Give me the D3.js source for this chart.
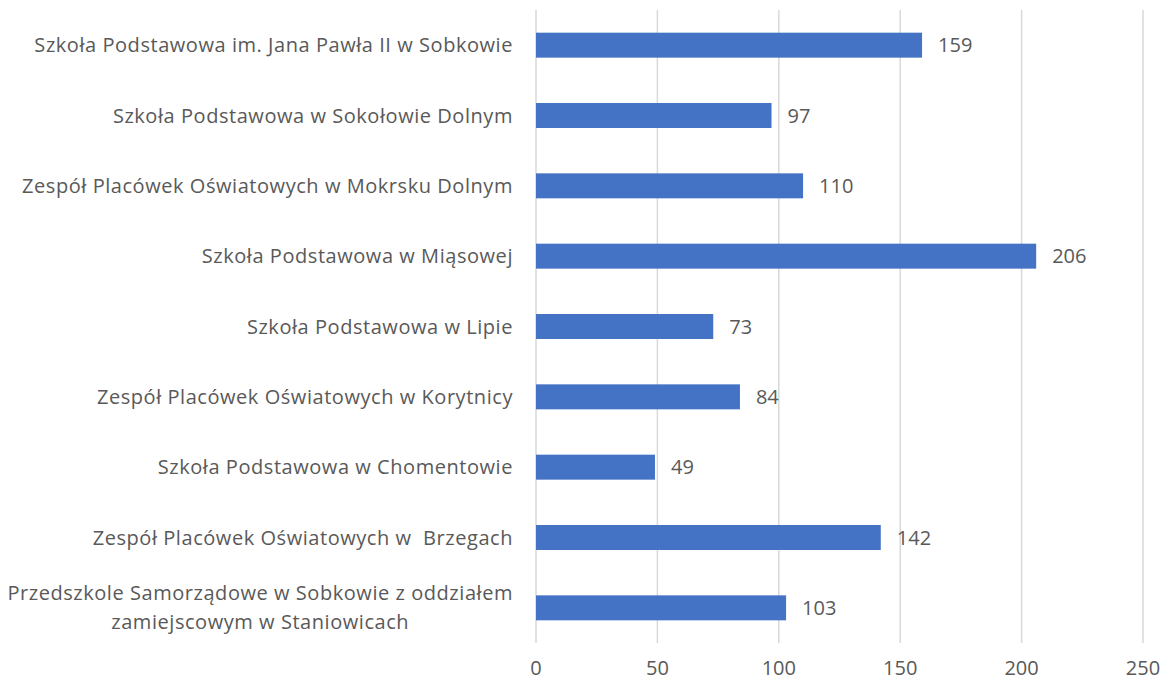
<!DOCTYPE html>
<html>
<head>
<meta charset="utf-8">
<script src="https://cdn.jsdelivr.net/npm/d3@7"></script>
<style>
  body { margin: 0; background: #fff; }
  text { font-family: "Open Sans", Lato, sans-serif; fill: #595959; white-space: pre; }
</style>
</head>
<body>
<svg id="chart" width="1167" height="683"></svg>
<script>
// data, top to bottom as drawn
var schools = [
	["Szkoła Podstawowa im. Jana Pawła II w Sobkowie"],
	["Szkoła Podstawowa w Sokołowie Dolnym"],
	["Zespół Placówek Oświatowych w Mokrsku Dolnym"],
	["Szkoła Podstawowa w Miąsowej"],
	["Szkoła Podstawowa w Lipie"],
	["Zespół Placówek Oświatowych w Korytnicy"],
	["Szkoła Podstawowa w Chomentowie"],
	["Zespół Placówek Oświatowych w  Brzegach"],
	["Przedszkole Samorządowe w Sobkowie z oddziałem", "zamiejscowym w Staniowicach"]
];
var counts = [159, 97, 110, 206, 73, 84, 49, 142, 103];
var xTicks = [0, 50, 100, 150, 200, 250];

var svg = d3.select("#chart");
var plotLeft = 536, plotRight = 1143, plotTop = 10, plotBottom = 643;
var fontSize = "20px";

var x = d3.scaleLinear().domain([0, 250]).range([plotLeft, plotRight]);
var y = d3.scaleBand().domain(d3.range(schools.length)).range([plotTop, plotBottom]).paddingInner(0.645).paddingOuter(0.3225);

// gridlines
svg.append("g").selectAll("line")
	.data(xTicks)
	.enter().append("line")
	.attr("x1", function(d) { return x(d); })
	.attr("x2", function(d) { return x(d); })
	.attr("y1", plotTop)
	.attr("y2", plotBottom)
	.attr("stroke", "#d9d9d9")
	.attr("stroke-width", 1.5);

// tick labels
svg.append("g").selectAll("text")
	.data(xTicks)
	.enter().append("text")
	.attr("x", function(d) { return x(d); })
	.attr("y", 668)
	.attr("dy", "0.35em")
	.attr("text-anchor", "middle")
	.style("font-size", fontSize)
	.text(function(d) { return d; });

// bars
svg.append("g").selectAll("rect")
	.data(counts)
	.enter().append("rect")
	.attr("x", x(0))
	.attr("y", function(d, i) { return y(i); })
	.attr("width", function(d) { return x(d) - x(0); })
	.attr("height", y.bandwidth())
	.attr("fill", "#4472c4");

// value labels
svg.append("g").selectAll("text")
	.data(counts)
	.enter().append("text")
	.attr("x", function(d) { return x(d) + 16; })
	.attr("y", function(d, i) { return y(i) + y.bandwidth() / 2; })
	.attr("dy", "0.35em")
	.style("font-size", fontSize)
	.text(function(d) { return d; });

// category labels (multi-line ones are centred on their widest line)
var labelRight = 513;
svg.append("g").selectAll("text")
	.data(schools)
	.enter().append("text")
	.style("font-size", fontSize)
	.style("letter-spacing", "0.55px")
	.each(function(lines, i) {
		var t = d3.select(this);
		var cy = y(i) + y.bandwidth() / 2;
		var lh = 29;
		lines.forEach(function(s, k) {
			t.append("tspan")
				.attr("y", cy + (k - (lines.length - 1) / 2) * lh)
				.attr("dy", "0.35em")
				.text(s);
		});
		if (lines.length > 1) {
			var w = d3.max(t.selectAll("tspan").nodes(), function(n) { return n.getComputedTextLength(); });
			t.attr("text-anchor", "middle").selectAll("tspan").attr("x", labelRight - w / 2);
		} else {
			t.attr("text-anchor", "end").selectAll("tspan").attr("x", labelRight);
		}
	});
</script>
</body>
</html>
